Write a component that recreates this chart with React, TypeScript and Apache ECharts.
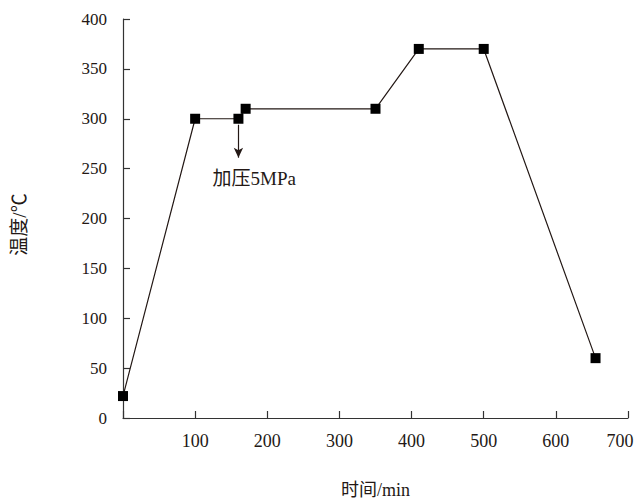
import React, { useEffect, useRef } from "react";
import * as echarts from "echarts";

const timeMin = [0, 100, 160, 170, 350, 410, 500, 655];
const tempC = [22, 300, 300, 310, 310, 370, 370, 60];
const annotationText = "加压5MPa";
const annotationArrow = { x: 160, from: 294, to: 261 };
const annotationLabelPos = [182, 240];

const FONT = "Liberation Serif, Noto Sans CJK SC, serif";
const INK = "#231815";

export default function App() {
  const ref = useRef<HTMLDivElement>(null);
  useEffect(() => {
    if (!ref.current) return;
    const chart = echarts.init(ref.current, undefined, { renderer: "svg" });
    const axisCommon = {
      axisLine: { show: true, lineStyle: { color: "#333", width: 1.2 } },
      axisTick: { show: true, inside: true, length: 7, lineStyle: { color: "#333", width: 1.2 } },
      splitLine: { show: false },
      nameLocation: "middle" as const,
    };
    chart.setOption({
      animation: false,
      backgroundColor: "#fff",
      textStyle: { fontFamily: FONT },
      grid: {
        left: 123,
        right: 11,
        top: 19,
        bottom: 82,
        containLabel: false,
        outerBoundsMode: "none",
      },
      xAxis: {
        type: "value",
        min: 0,
        max: 700,
        interval: 100,
        name: "时间/min",
        nameGap: 63,
        nameTextStyle: { fontFamily: FONT, fontSize: 18, color: INK },
        ...axisCommon,
        axisLabel: {
          margin: 14,
          fontFamily: FONT,
          fontSize: 18,
          color: INK,
          formatter: (v: number) => (v === 0 ? "" : v === 700 ? "{last|700}" : String(v)),
          rich: {
            last: { fontFamily: FONT, fontSize: 18, color: INK, padding: [0, 16, 0, 0] },
          },
        },
      },
      yAxis: {
        type: "value",
        min: 0,
        max: 400,
        interval: 50,
        name: "温度/℃",
        nameGap: 94,
        nameTextStyle: { fontFamily: FONT, fontSize: 19, color: INK, padding: [0, 12, 0, 0] },
        ...axisCommon,
        axisLabel: { margin: 16, fontFamily: FONT, fontSize: 17, color: INK },
      },
      series: [
        {
          type: "line",
          data: timeMin.map((t, i) => [t, tempC[i]]),
          symbol: "rect",
          symbolSize: 10,
          itemStyle: { color: "#000" },
          lineStyle: { color: INK, width: 1.2 },
          z: 3,
          markLine: {
            silent: true,
            symbol: ["none", "arrow"],
            symbolSize: [7, 10],
            label: { show: false },
            lineStyle: { color: INK, width: 1.2, type: "solid" },
            data: [
              [
                { coord: [annotationArrow.x, annotationArrow.from] },
                { coord: [annotationArrow.x, annotationArrow.to] },
              ],
            ],
          },
          markPoint: {
            silent: true,
            symbol: "circle",
            symbolSize: 0,
            label: {
              show: true,
              position: "inside",
              formatter: annotationText,
              fontFamily: FONT,
              fontSize: 19,
              color: INK,
            },
            data: [{ coord: annotationLabelPos }],
          },
        },
      ],
    });
    return () => chart.dispose();
  }, []);
  return (
    <div
      ref={ref}
      style={{ position: "absolute", left: 0, top: 0, width: 639, height: 500, background: "#fff" }}
    />
  );
}
